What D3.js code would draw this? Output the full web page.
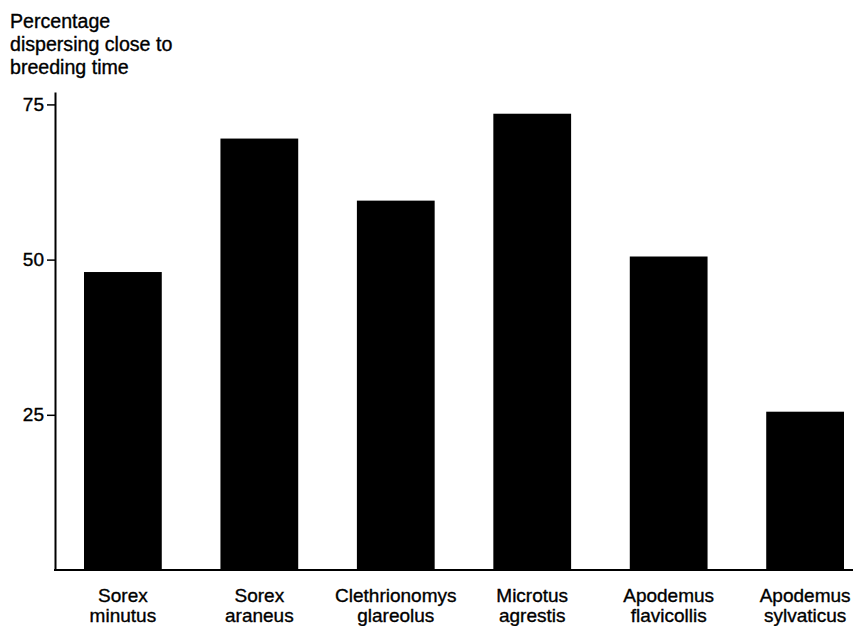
<!DOCTYPE html>
<html>
<head>
<meta charset="utf-8">
<script src="https://cdn.jsdelivr.net/npm/d3@7"></script>
<style>
  html, body { margin: 0; padding: 0; background: #fff; }
  svg { display: block; font-family: "Liberation Sans", Arial, Helvetica, sans-serif; }
  .txt { stroke: #000; stroke-width: 0.35px; }
</style>
</head>
<body>
<svg id="chart" width="855" height="626"></svg>
<script>
// Species (two-line labels) and percentage dispersing close to breeding time
const speciesLine1 = ["Sorex", "Sorex", "Clethrionomys", "Microtus", "Apodemus", "Apodemus"];
const speciesLine2 = ["minutus", "araneus", "glareolus", "agrestis", "flavicollis", "sylvaticus"];
const percentDispersing = [48, 69.5, 59.5, 73.5, 50.5, 25.5];
const yTicks = [25, 50, 75];
const titleLines = ["Percentage", "dispersing close to", "breeding time"];

const svg = d3.select("#chart");
const fontSize = 19;

const x = d3.scaleBand()
  .domain(d3.range(speciesLine1.length))
  .range([84, 844])
  .paddingInner(0.43)
  .paddingOuter(0);

const y = d3.scaleLinear()
  .domain([0, 77])
  .range([570, 92]);

// Bars
svg.append("g")
  .selectAll("rect")
  .data(percentDispersing)
  .join("rect")
  .attr("x", (d, i) => x(i))
  .attr("y", d => y(d))
  .attr("width", x.bandwidth())
  .attr("height", d => y(0) - y(d))
  .attr("fill", "#000");

// Y axis
const yAxis = svg.append("g")
  .attr("transform", "translate(55,0)")
  .call(d3.axisLeft(y).tickValues(yTicks).tickSize(8).tickSizeOuter(0));
yAxis.select(".domain").attr("stroke", "#000").attr("stroke-width", 2);
yAxis.selectAll(".tick line").attr("stroke", "#000").attr("stroke-width", 1.5);
yAxis.selectAll(".tick text")
  .attr("class", "txt")
  .attr("x", -11)
  .attr("font-size", fontSize)
  .attr("font-family", "Liberation Sans, Arial, sans-serif")
  .attr("fill", "#000");

// Baseline
svg.append("line")
  .attr("x1", 54).attr("x2", 853)
  .attr("y1", y(0)).attr("y2", y(0))
  .attr("stroke", "#000").attr("stroke-width", 2);

// Category labels
const labels = svg.append("g")
  .selectAll("text")
  .data(speciesLine1)
  .join("text")
  .attr("class", "txt")
  .attr("text-anchor", "middle")
  .attr("font-size", fontSize)
  .attr("fill", "#000");
labels.append("tspan")
  .attr("x", (d, i) => x(i) + x.bandwidth() / 2)
  .attr("y", 602)
  .text(d => d);
labels.append("tspan")
  .attr("x", (d, i) => x(i) + x.bandwidth() / 2)
  .attr("y", 622)
  .text((d, i) => speciesLine2[i]);

// Y axis title
svg.append("g")
  .selectAll("text")
  .data(titleLines)
  .join("text")
  .attr("class", "txt")
  .attr("x", 10)
  .attr("y", (d, i) => 28 + i * 23)
  .attr("font-size", 19.6)
  .attr("fill", "#000")
  .text(d => d);
</script>
</body>
</html>
